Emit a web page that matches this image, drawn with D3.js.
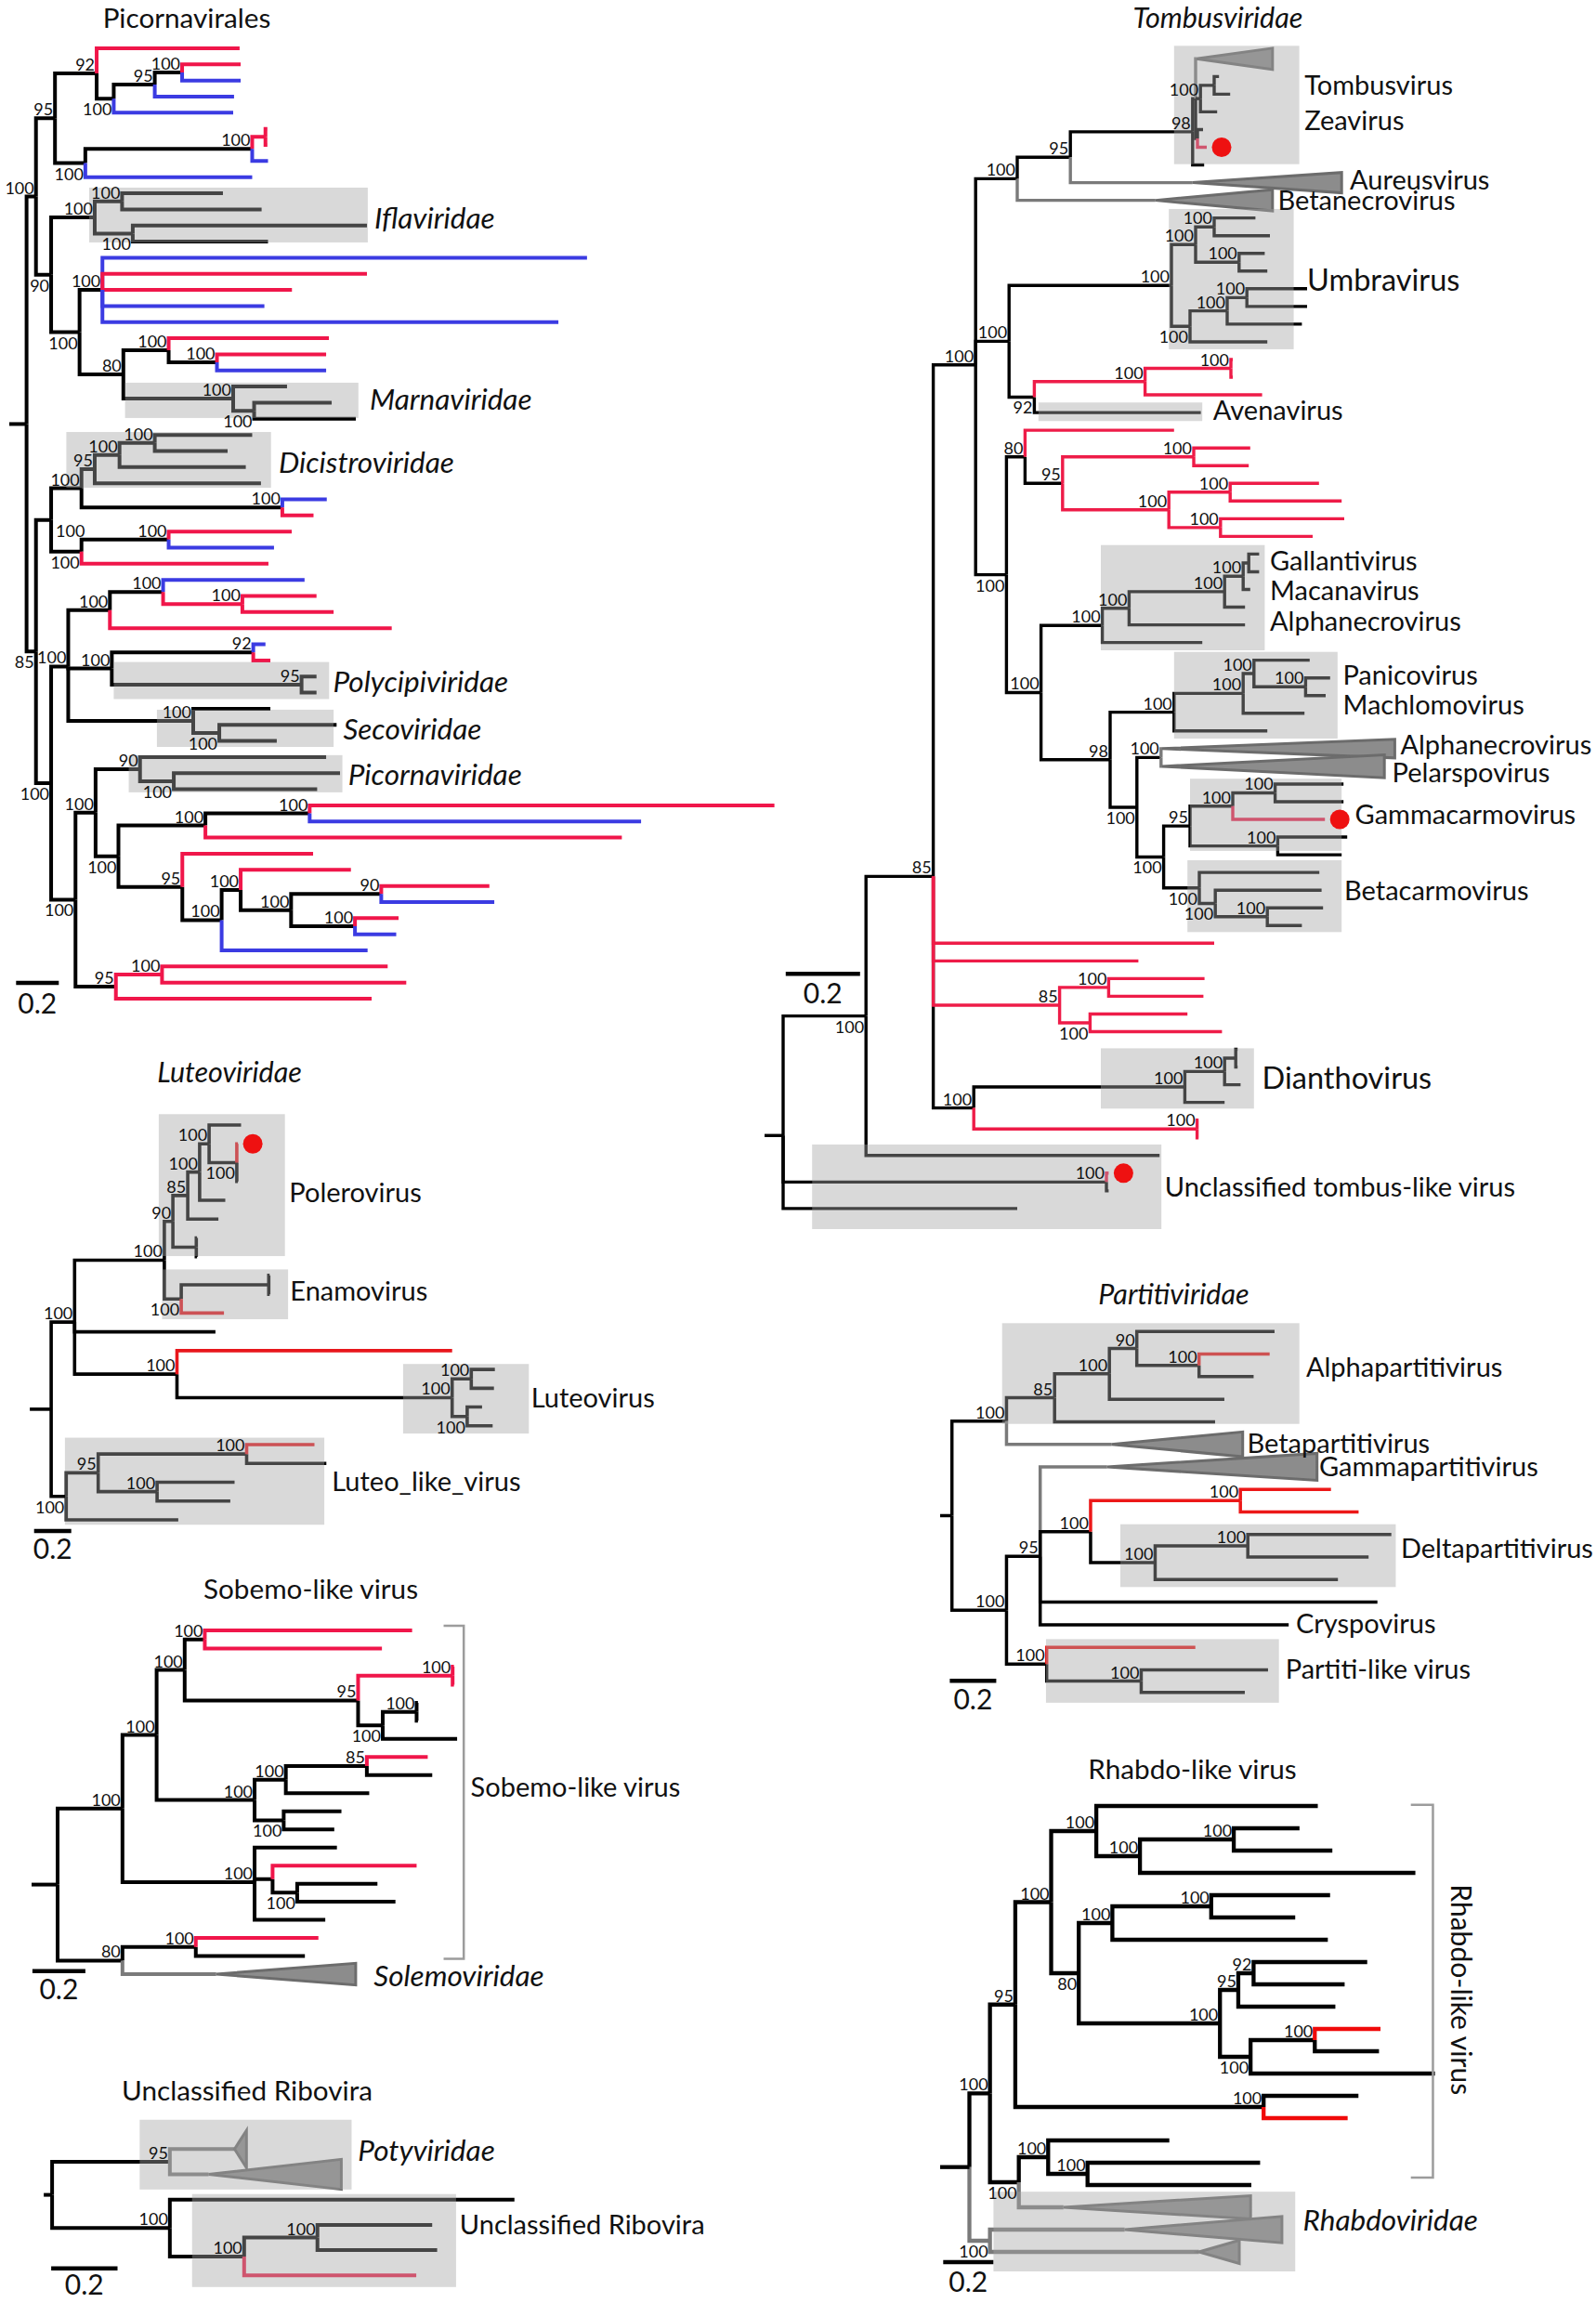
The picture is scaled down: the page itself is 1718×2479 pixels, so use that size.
<!DOCTYPE html>
<html><head><meta charset="utf-8">
<script src="https://cdn.jsdelivr.net/npm/d3@7"></script>
<style>
html,body{margin:0;padding:0;background:#fff;}
svg{display:block;}
text{font-family:Lato,"Open Sans",sans-serif;fill:#111;}
</style></head><body>
<svg id="chart" width="1718" height="2479"></svg>
<script>
// ---------- DATA: [id, parent, cumulative branch depth (subst./site), colour, support, triangleTipDepth, triangleSize(rows)] ----------
const picoNodes = [
["R","",0,"k",""],["A","R",0.044,"k","100"],["B","A",0.133,"k","95"],["C","B",0.328,"k","92"],["c1","C",0.997,"r",""],
["D","C",0.408,"k","100"],["E","D",0.600,"k","95"],["F","E",0.728,"k","100"],["f1","F",1.002,"r",""],["f2","F",1.002,"b",""],
["e1","E",0.971,"b",""],["d1","D",0.967,"b",""],["G","B",0.275,"k","100"],["H","G",1.056,"k","100"],["I","H",1.118,"r",""],
["i1","I",1.127,"r",""],["i2","I",1.127,"r",""],["h1","H",1.130,"b",""],["g1","G",1.056,"b",""],
["J","A",0.115,"k","90"],["K","J",0.319,"k","100"],["K1","K",0.447,"k","100"],["k1","K1",0.919,"k",""],["k2","K1",1.100,"k",""],
["K2","K",0.497,"k","100"],["k3","K2",1.593,"k",""],["k4","K2",1.130,"k",""],["M","J",0.248,"k","100"],["L","M",0.355,"k","100"],
["l1","L",2.623,"b",""],["l2","L",1.593,"r",""],["l3","L",1.242,"r",""],["l4","L",1.113,"b",""],["l5","L",2.489,"b",""],
["N","M",0.453,"k","80"],["O","N",0.665,"k","100"],["o1","O",1.415,"r",""],["Q","O",0.891,"k","100"],["q1","Q",1.402,"r",""],["q2","Q",1.402,"b",""],
["P","N",0.967,"k","100"],["p1","P",1.219,"k",""],["P2","P",1.065,"k","100"],["p2","P2",1.428,"k",""],["p3","P2",1.541,"k",""],
["S","R",0.044,"k","85"],["T","S",0.115,"k","100"],["U","T",0.257,"k","100"],["V","U",0.319,"k","95"],["W","V",0.435,"k","100"],
["X","W",0.600,"k","100"],["x1","X",1.056,"k",""],["x2","X",0.941,"k",""],["w1","W",1.026,"k",""],["v1","V",1.097,"k",""],
["Y","U",1.197,"k","100"],["y1","Y",1.405,"b",""],["y2","Y",1.343,"r",""],["Z","T",0.257,"k","100"],["AA","Z",0.665,"k","100"],
["aa1","AA",1.241,"r",""],["aa2","AA",1.158,"b",""],["z1","Z",1.132,"r",""],
["AB","S",0.115,"k","100"],["AF","AB",0.195,"k","100"],["AD","AF",0.390,"k","100"],["AC","AD",0.639,"k","100"],["ac1","AC",1.301,"b",""],
["AE","AC",1.010,"r","100"],["ae1","AE",1.357,"r",""],["ae2","AE",1.437,"r",""],["ad1","AD",1.709,"r",""],
["AG","AF",0.399,"k","100"],["AH","AG",1.061,"k","92"],["ah1","AH",1.118,"b",""],["ah2","AH",1.141,"r",""],
["AG2","AG",1.287,"k","95"],["ag1","AG2",1.357,"k",""],["ag2","AG2",1.357,"k",""],
["AI","AF",0.780,"k","100"],["ai1","AI",1.141,"k",""],["AJ","AI",0.902,"k","100"],["aj1","AJ",1.451,"k",""],["aj2","AJ",1.171,"k",""],
["AK","AB",0.229,"k","100"],["AL","AK",0.323,"k","100"],["AM","AL",0.531,"k","90"],["am1","AM",1.402,"k",""],
["AN","AM",0.689,"k","100"],["an1","AN",1.467,"k",""],["an2","AN",1.360,"k",""],
["AO","AL",0.430,"k","100"],["AP","AO",0.837,"k","100"],["AQ","AP",1.325,"k","100"],["aq1","AQ",3.500,"r",""],["aq2","AQ",2.876,"b",""],
["ap1","AP",2.786,"r",""],["AR","AO",0.729,"k","95"],["ar1","AR",1.341,"r",""],["AS","AR",0.913,"k","100"],["AT","AS",1.002,"k","100"],
["at1","AT",1.518,"r",""],["AU","AT",1.238,"k","100"],["AV","AU",1.660,"k","90"],["av1","AV",2.166,"r",""],["av2","AV",2.189,"b",""],
["AW","AU",1.537,"k","100"],["aw1","AW",1.741,"r",""],["aw2","AW",1.730,"b",""],["as1","AS",1.596,"b",""],
["AX","AK",0.418,"k","95"],["AY","AX",0.634,"r","100"],["ay1","AY",1.690,"r",""],["ay2","AY",1.777,"r",""],["ax1","AX",1.615,"r",""]
];
const picoBelow = ["D","G","J","K2","M","P2","S","Z","AJ","AB","AK","AN","AO"];
const picoRight = ["T"];
const picoBoxes = [[8.65,12.05,0.293,1.597],[20.76,22.95,0.461,1.553],[23.82,27.28,0.186,1.144],[38.1,40.4,0.408,1.416],[41.06,43.37,0.610,1.437],[43.88,46.19,0.478,1.478]];
const picoNames = [["Iflaviridae",1.628,10.55],["Marnaviridae",1.606,21.8],["Dicistroviridae",1.180,25.68],["Polycipiviridae",1.434,39.3],["Secoviridae",1.482,42.27],["Picornaviridae",1.505,45.1]];

const tombNodes = [
["R","",0,"k",""],["RA","R",0.223,"k","100"],["RB","RA",0.404,"k","85"],["RD","RB",0.518,"k","100"],["RF","RD",0.630,"k","100"],
["RI","RF",0.773,"k","95"],["RJ","RI",1.102,"k","98"],["RK","RJ",1.110,"k",""],["T1","RK",1.112,"g","",1.317,1.2],
["RK2","RK",1.123,"k","100"],["RK3","RK2",1.160,"k",""],["rk1","RK3",1.173,"k",""],["rk2","RK3",1.203,"k",""],["rk3","RK2",1.168,"k",""],
["RL","RK",1.115,"k",""],["rl1","RL",1.130,"k",""],["rl2","RL",1.140,"r",""],["rj1","RJ",1.133,"k",""],
["Aur","RI",1.102,"g","",1.503,1.15],["Bet","RF",1.002,"g","",1.317,1.2],
["RH","RD",0.608,"k","100"],["RM","RH",1.045,"k","100"],["RM1","RM",1.110,"k","100"],["RM1a","RM1",1.160,"k","100"],
["m1","RM1a",1.271,"k",""],["m2","RM1a",1.310,"k",""],["RM1b","RM1",1.227,"k","100"],["m3","RM1b",1.296,"k",""],["m4","RM1b",1.303,"k",""],
["RM2","RM",1.095,"k","100"],["RM2a","RM2",1.195,"k","100"],["RM2b","RM2a",1.248,"k","100"],["m5","RM2b",1.410,"k",""],["m6","RM2b",1.410,"k",""],
["m7","RM2a",1.396,"k",""],["m8","RM2",1.303,"k",""],
["RN","RH",0.676,"k","92"],["RO","RN",0.974,"r","100"],["RO1","RO",1.205,"r","100"],["o1","RO1",1.210,"r",""],["o2","RO1",1.210,"r",""],
["o3","RO",1.289,"r",""],["av","RN",1.124,"k",""],
["RG","RD",0.601,"k","100"],["RP","RG",0.651,"k","80"],["p1","RP",1.052,"r",""],["RR","RP",0.752,"k","95"],
["RS","RR",1.105,"r","100"],["s1","RS",1.257,"r",""],["s2","RS",1.253,"r",""],["RT","RR",1.038,"r","100"],
["RT1","RT",1.203,"r","100"],["t1","RT1",1.442,"r",""],["t2","RT1",1.503,"r",""],["RT2","RT",1.177,"r","100"],["t3","RT2",1.510,"r",""],["t4","RT2",1.425,"r",""],
["RQ","RG",0.694,"k","100"],["RU","RQ",0.859,"k","100"],["RV","RU",0.931,"k","100"],["RW","RV",1.188,"k","100"],["RX","RW",1.238,"k","100"],
["RY","RX",1.253,"k",""],["y1","RY",1.281,"k",""],["y2","RY",1.281,"k",""],["y3","RX",1.257,"k",""],["y4","RW",1.243,"k",""],
["y5","RV",1.243,"k",""],["y6","RU",1.128,"k",""],
["RZ","RQ",0.880,"k","98"],["RZ1","RZ",1.052,"k","100"],["RZ1a","RZ1",1.238,"k","100"],["RZ1b","RZ1a",1.267,"k","100"],["z1","RZ1b",1.417,"k",""],
["RZ1c","RZ1b",1.406,"k","100"],["z2","RZ1c",1.472,"k",""],["z3","RZ1c",1.460,"k",""],["z4","RZ1a",1.403,"k",""],["z5","RZ1",1.303,"k",""],
["RZ2","RZ",0.952,"k","100"],["RAA","RZ2",1.017,"k","100"],["Alp","RAA",1.020,"g","",1.646,1.05],["Pel","RAA",1.020,"g","",1.618,1.3],
["RAB","RZ2",1.024,"k","100"],["RAC","RAB",1.095,"k","95"],["RAD","RAC",1.210,"k","100"],["RAD1","RAD",1.324,"k","100"],
["g1","RAD1",1.508,"k",""],["g2","RAD1",1.508,"k",""],["g3","RAD",1.458,"r",""],["RAE","RAC",1.331,"k","100"],["g4","RAE",1.518,"k",""],["g5","RAE",1.503,"k",""],
["RAF","RAB",1.120,"k","100"],["b1","RAF",1.443,"k",""],["RAG","RAF",1.163,"k","100"],["b2","RAG",1.449,"k",""],
["RAH","RAG",1.303,"k","100"],["b3","RAH",1.453,"k",""],["b4","RAH",1.396,"k",""],
["r1","RB",1.160,"r",""],["r2","RB",0.956,"r",""],["R85","RB",0.744,"r","85"],["R85a","R85",0.876,"r","100"],["r3","R85a",1.134,"r",""],
["r4","R85a",1.131,"r",""],["R85b","R85",0.826,"r","100"],["r5","R85b",1.088,"r",""],["r6","R85b",1.181,"r",""],
["RE","RB",0.513,"k","100"],["REa","RE",1.081,"k","100"],["REb","REa",1.188,"k","100"],["REc","REb",1.218,"k",""],
["e1","REc",1.223,"k",""],["e2","REc",1.223,"k",""],["e3","REb",1.231,"k",""],["e4","REa",1.188,"k",""],
["RF2","RE",1.114,"r","100"],["f1","RF2",1.118,"r",""],["f2","RF2",1.118,"r",""],
["ra1","RA",1.013,"k",""],["RC","R",0.870,"k","100"],["c1","RC",0.876,"r",""],["c2","RC",0.876,"k",""],["rt","R",0.630,"k",""]
];
const tombBelow = ["RA","RM2","RN","RG","RZ2","RAB","RAF","RAG","R85b"];
const tombBoxes = [[-0.735,5.956,1.052,1.389],[8.49,16.42,1.038,1.374],[19.43,20.48,0.687,1.128],[27.49,33.44,0.855,1.296],[33.53,38.43,1.052,1.492],
[40.70,44.78,1.095,1.503],[45.31,49.37,1.088,1.503],[55.94,59.35,0.855,1.267],[61.38,66.16,0.078,1.018]];
const tombNames = [["Tombusvirus",1.403,1.5],["Zeavirus",1.403,3.5],["Aureusvirus",1.525,6.86],["Betanecrovirus",1.331,8.02],["Umbravirus",1.410,12.52],
["Avenavirus",1.157,19.87],["Gallantivirus",1.310,28.36],["Macanavirus",1.310,30.03],["Alphanecrovirus",1.310,31.78],["Panicovirus",1.506,34.84],
["Machlomovirus",1.506,36.5],["Alphanecrovirus",1.661,38.78],["Pelarspovirus",1.639,40.36],["Gammacarmovirus",1.539,42.72],["Betacarmovirus",1.510,47.01],
["Dianthovirus",1.289,57.6],["Unclassified tombus-like virus",1.027,63.75]];
const tombDots = ["rl2","g3","c1"];

const luteoNodes = [
["R","",0,"k",""],["RL1","R",0.126,"k","100"],["PE","RL1",0.609,"k","100"],["P1","PE",0.655,"k","90"],["P2","P1",0.735,"k","85"],
["P3","P2",0.799,"k","100"],["P4","P3",0.850,"k","100"],["p41","P4",1.022,"k",""],["P5","P4",0.999,"k","100"],
["p51","P5",1.005,"r",""],["p52","P5",1.005,"k",""],["p53","P5",1.005,"k",""],["p31","P3",0.937,"k",""],["p21","P2",0.900,"k",""],
["P1c","P1",0.781,"k",""],["p11","P1c",0.785,"k",""],["p12","P1c",0.785,"k",""],
["E1","PE",0.700,"k","100"],["E2","E1",1.171,"k",""],["e21","E2",1.176,"k",""],["e22","E2",1.176,"k",""],["e11","E1",0.930,"r",""],
["bl","RL1",0.884,"k",""],["L1","RL1",0.677,"k","100"],["l11","L1",2.158,"r",""],["L2","L1",2.158,"k","100"],
["L3","L2",2.261,"k","100"],["l31","L3",2.388,"k",""],["l32","L3",2.383,"k",""],["L4","L2",2.239,"k","100"],["l41","L4",2.319,"k",""],["l42","L4",2.376,"k",""],
["RL2","R",0.081,"k","100"],["LL1","RL2",0.253,"k","95"],["LL2","LL1",1.052,"k","100"],["ll21","LL2",1.417,"r",""],["ll22","LL2",1.481,"k",""],
["LL3","LL1",0.570,"k","100"],["ll31","LL3",0.987,"k",""],["ll32","LL3",0.964,"k",""],["rl2","RL2",0.684,"k",""]
];
const luteoBelow = ["P5","E1","L4","RL2"];
const luteoBoxes = [[-0.578,6.97,0.579,1.258],[7.68,10.33,0.597,1.275],[12.71,16.41,1.894,2.571],[16.63,21.26,0.074,1.470]];
const luteoNames = [["Polerovirus",1.281,3.59],["Enamovirus",1.286,8.82],["Luteovirus",2.583,14.52],["Luteo_like_virus",1.511,18.97]];
const luteoDots = ["p51"];

const partNodes = [
["R","",0,"k",""],["PA","R",0.235,"k","100"],["PB","PA",0.442,"k","85"],["PC","PB",0.678,"k","100"],["PD","PC",0.796,"k","90"],
["pd1","PD",1.389,"k",""],["PE","PD",1.064,"k","100"],["pe1","PE",1.368,"r",""],["pe2","PE",1.299,"k",""],["pc1","PC",1.173,"k",""],
["pb1","PB",1.133,"k",""],["Bet","PA",0.687,"g","",1.252,1.1],
["PF","R",0.235,"k","100"],["PG","PF",0.380,"k","95"],["Gam","PG",0.668,"g","",1.572,1.2],["PI","PG",0.597,"k","100"],
["PJ","PI",1.242,"r","100"],["pj1","PJ",1.632,"r",""],["pj2","PJ",1.751,"r",""],["PK","PI",0.875,"k","100"],
["PL","PK",1.274,"k","100"],["pl1","PL",1.892,"k",""],["pl2","PL",1.794,"k",""],["pk1","PK",1.662,"k",""],
["pg1","PG",1.832,"k",""],["pg2","PG",1.450,"k",""],["PH","PF",0.408,"k","100"],["ph1","PH",1.048,"r",""],
["PM","PH",0.815,"k","100"],["pm1","PM",1.361,"k",""],["pm2","PM",1.261,"k",""]
];
const partBoxes = [[-0.371,4.096,0.216,1.496],[8.545,11.33,0.725,1.911],[13.64,16.46,0.405,1.408]];
const partNames = [["Alphapartitivirus",1.525,1.58],["Betapartitivirus",1.271,4.97],["Gammapartitivirus",1.581,6.0],["Deltapartitivirus",1.933,9.6],
["Cryspovirus",1.481,12.94],["Partiti-like virus",1.436,14.97]];

const sobNodes = [
["R","",0,"k",""],["SA","R",0.245,"k","100"],["SB","SA",0.374,"k","100"],["SD","SB",0.480,"k","100"],["SF","SD",0.556,"k","100"],
["sf1","SF",1.339,"r",""],["sf2","SF",1.225,"r",""],["SG","SD",1.135,"k","95"],["SGc","SG",1.492,"r","100"],["sg1","SGc",1.497,"r",""],["sg2","SGc",1.497,"r",""],
["SH","SG",1.228,"k","100"],["SHc","SH",1.356,"k","100"],["sh1","SHc",1.361,"k",""],["sh2","SHc",1.361,"k",""],["sh3","SH",1.509,"k",""],
["SE","SB",0.744,"k","100"],["SI","SE",0.862,"k","100"],["SK","SI",1.168,"k","85"],["sk1","SK",1.398,"r",""],["sk2","SK",1.415,"k",""],
["si1","SI",1.177,"k",""],["SJ","SE",0.854,"k","100"],["sj1","SJ",1.072,"k",""],["sj2","SJ",1.045,"k",""],
["SC","SA",0.744,"k","100"],["sc1","SC",1.055,"k",""],["SL","SC",0.812,"k",""],["sl1","SL",1.356,"r",""],["SM","SL",0.905,"k","100"],
["sm1","SM",1.208,"k",""],["sm2","SM",1.276,"k",""],["sc3","SC",1.011,"k",""],
["SN","R",0.245,"k","80"],["SO","SN",0.522,"k","100"],["so1","SO",0.985,"r",""],["so2","SO",0.934,"k",""],["Sol","SN",0.599,"g","",1.126,1.2]
];
const sobBelow = ["SH","SJ","SM"];
const sobNames = [["Sobemo-like virus",1.560,8.64],["Solemoviridae",1.194,19.09]];
const sobBracket = [1.458,1.534,-0.26,18.15];

const ribNodes = [
["R","",0,"k",""],["UA","R",0.355,"k","95"],["Pt1","UA",0.550,"g","",0.586,1.47],["Pt2","UA",0.472,"g","",0.872,1.19],
["UB","R",0.355,"k","100"],["ub1","UB",1.394,"k",""],["UC","UB",0.579,"k","100"],["UD","UC",0.800,"k","100"],
["ud1","UD",1.146,"k",""],["ud2","UD",1.161,"k",""],["uc1","UC",1.098,"r",""]
];
const ribBoxes = [[-1.16,1.60,0.264,0.903],[1.78,5.46,0.422,1.218]];
const ribNames = [["Potyviridae",0.922,0.06],["Unclassified Ribovira",1.229,3.0]];

const rhabNodes = [
["R","",0,"k",""],["HA","R",0.082,"k","100"],["HB","HA",0.183,"k","95"],["HD","HB",0.326,"k","100"],["HF","HD",0.506,"k","100"],
["hf1","HF",1.389,"k",""],["HH","HF",0.680,"k","100"],["HI","HH",1.054,"k","100"],["hi1","HI",1.316,"k",""],["hi2","HI",1.447,"k",""],
["hh1","HH",1.778,"k",""],["HG","HD",0.436,"k","80"],["HJ","HG",0.570,"k","100"],["HK","HJ",0.964,"k","100"],["hk1","HK",1.438,"k",""],
["hk2","HK",1.299,"k",""],["hj1","HJ",1.429,"k",""],["HL","HG",0.999,"k","100"],["HM","HL",1.072,"k","95"],["HN","HM",1.133,"k","92"],
["hn1","HN",1.586,"k",""],["hn2","HN",1.496,"k",""],["hm1","HM",1.459,"k",""],["HO","HL",1.121,"k","100"],["HP","HO",1.377,"k","100"],
["hp1","HP",1.639,"r",""],["hp2","HP",1.633,"k",""],["ho1","HO",1.856,"k",""],["HE","HB",1.173,"k","100"],["he1","HE",1.551,"k",""],
["he2","HE",1.508,"r",""],["HC","HA",0.197,"k","100"],["HQ","HC",0.314,"k","100"],["hq1","HQ",0.797,"k",""],["HR","HQ",0.471,"k","100"],
["hr1","HR",1.159,"k",""],["hr2","HR",1.124,"k",""],["Rh1","HC",0.375,"g","",1.121,1.04],
["HS","R",0.082,"g","100"],["Rh2","HS",0.619,"g","",1.246,1.18],["Rh3","HS",0.915,"g","",1.076,1.04]
];
const rhabBelow = ["HG","HO","HC","HS"];
const rhabBoxes = [[17.30,20.875,0.096,1.299]];
const rhabNames = [["Rhabdoviridae",1.330,18.55]];
const rhabBracket = [1.760,1.848,-0.05,16.67];
const rhabSide = ["Rhabdo-like virus",1.961,8.24];

const treeTitles = ["Picornavirales","Tombusviridae","Luteoviridae","Partitiviridae","Sobemo-like virus","Unclassified Ribovira","Rhabdo-like virus"];
const scaleValue = 0.2;

// ---------- LAYOUT ----------
const layouts = [
 {nodes:picoNodes, below:picoBelow, right:picoRight, boxes:picoBoxes, names:picoNames, rootX:28.6, ppu:230, y0:52, y1:1075, stub:18.6, lw:4, red:"#f0164a", bar:[17.3,1058], barLabelY:1080, title:[201,19]},
 {nodes:tombNodes, below:tombBelow, boxes:tombBoxes, names:tombNames, dots:tombDots, rootX:843, ppu:400, y0:63.3, y1:1300.9, stub:20, lw:3.4, red:"#ee1c48", bar:[845.8,1048.3], barLabelY:1069, title:[1311,19]},
 {nodes:luteoNodes, below:luteoBelow, boxes:luteoBoxes, names:luteoNames, dots:luteoDots, rootX:55.1, ppu:200, y0:1211, y1:1636, stub:23, lw:3.6, red:"#e8161c", bar:[36.7,1648], barLabelY:1667, title:[247,1154]},
 {nodes:partNodes, boxes:partBoxes, names:partNames, rootX:1024.7, ppu:250, y0:1433.3, y1:1821.7, stub:12.7, lw:3.5, red:"#ec1818", bar:[1022.4,1809.3], barLabelY:1829, title:[1263.5,1393]},
 {nodes:sobNodes, below:sobBelow, names:sobNames, bracket:sobBracket, rootX:62, ppu:285, y0:1755, y1:2125, stub:28, lw:4, red:"#f0164a", bar:[34.9,2121.7], barLabelY:2141, title:[334.5,1710]},
 {nodes:ribNodes, boxes:ribBoxes, names:ribNames, rootX:56.1, ppu:357, y0:2313.3, y1:2449.3, stub:9, lw:4, red:"#ee1c48", bar:[55.1,2441.7], barLabelY:2459, title:[266,2250]},
 {nodes:rhabNodes, below:rhabBelow, boxes:rhabBoxes, names:rhabNames, bracket:rhabBracket, side:rhabSide, rootX:1043.5, ppu:270, y0:1944, y1:2424, stub:31.5, lw:4.3, red:"#f00a0a", bar:[1015.3,2435], barLabelY:2456, title:[1283.5,1904]}
];
const bigNames = new Set(["Umbravirus","Dianthovirus"]);
const baseCol = {k:"#000000", b:"#3b3be2", g:"#7a7a7a"};
const isItalic = s => /viridae$/.test(s);
const nameSize = s => bigNames.has(s) ? 32.5 : (isItalic(s) ? 31.5 : 29);
const svg = d3.select("#chart");
svg.append("rect").attr("width",1718).attr("height",2479).attr("fill","#fff");

function drawTree(L, title) {
  const g = svg.append("g");
  const byId = new Map();
  L.nodes.forEach(r => byId.set(r[0], {id:r[0], depth:r[2], col:r[3], sup:r[4], tip:r[5], th:r[6], kids:[]}));
  L.nodes.forEach(r => { if (r[1]) byId.get(r[1]).kids.push(byId.get(r[0])); });
  const root = d3.hierarchy(byId.get(L.nodes[0][0]), d => d.kids.length ? d.kids : null);
  let n = 0;
  root.eachBefore(d => { if (!d.children) d.row = n++; });
  root.eachAfter(d => { if (d.children) d.row = d3.mean(d.children, c => c.row); });
  const x = d3.scaleLinear().domain([0,1]).range([L.rootX, L.rootX + L.ppu]);
  const y = d3.scaleLinear().domain([0, n-1]).range([L.y0, L.y1]);
  const col = c => c === "r" ? L.red : baseCol[c];
  const branches = root.descendants().filter(d => d.parent);
  const rank = {k:0, g:0, r:1, b:1};
  const sorted = branches.slice().sort((a,b) => rank[a.data.col] - rank[b.data.col]);

  g.append("g").selectAll("path").data(sorted).join("path")
    .attr("d", d => `M${x(d.parent.data.depth)},${y(d.parent.row)}V${y(d.row)}H${x(d.data.depth)}`)
    .attr("fill","none").attr("stroke", d => col(d.data.col)).attr("stroke-width", L.lw)
    .attr("stroke-linejoin","miter").attr("stroke-linecap","butt");

  const tris = branches.filter(d => d.data.tip != null);
  g.append("g").selectAll("path").data(tris).join("path")
    .attr("d", d => { const yc = y(d.row), hh = (y(d.data.th) - y(0))/2;
      return `M${x(d.data.depth)},${yc}L${x(d.data.tip)},${yc-hh}L${x(d.data.tip)},${yc+hh}Z`; })
    .attr("fill","#8c8c8c").attr("stroke","#6c6c6c").attr("stroke-width",3).attr("stroke-linejoin","miter");

  g.append("line").attr("x1", x(0) - L.stub).attr("x2", x(0)).attr("y1", y(root.row)).attr("y2", y(root.row))
    .attr("stroke","#000").attr("stroke-width", L.lw);

  g.append("g").selectAll("rect").data(L.boxes || []).join("rect")
    .attr("x", b => x(b[2])).attr("y", b => y(b[0]))
    .attr("width", b => x(b[3]) - x(b[2])).attr("height", b => y(b[1]) - y(b[0]))
    .attr("fill","rgba(165,165,165,0.42)");

  const all = root.descendants();
  g.append("g").selectAll("circle").data((L.dots || []).map(id => all.find(d => d.data.id === id))).join("circle")
    .attr("cx", d => x(d.data.depth) + 16).attr("cy", d => y(d.row)).attr("r", 10.5).attr("fill","#ee1111");

  const below = new Set(L.below || []), right = new Set(L.right || []);
  g.append("g").selectAll("text").data(branches.filter(d => d.data.sup)).join("text")
    .attr("x", d => right.has(d.data.id) ? x(d.data.depth) + 5 : x(d.data.depth) - 2)
    .attr("y", d => (below.has(d.data.id) || right.has(d.data.id)) ? y(d.row) + 18 : y(d.row) - 3)
    .attr("text-anchor", d => right.has(d.data.id) ? "start" : "end")
    .attr("font-size", 18).text(d => d.data.sup);

  g.append("g").selectAll("text").data(L.names || []).join("text")
    .attr("x", t => x(t[1])).attr("y", t => y(t[2])).attr("dy","0.36em")
    .attr("font-size", t => nameSize(t[0]))
    .attr("font-style", t => isItalic(t[0]) ? "italic" : "normal")
    .text(t => t[0]);

  if (L.bracket) {
    const b = L.bracket;
    g.append("path").attr("d", `M${x(b[0])},${y(b[2])}H${x(b[1])}V${y(b[3])}H${x(b[0])}`)
      .attr("fill","none").attr("stroke","#9c9c9c").attr("stroke-width",2.5);
  }
  if (L.side) {
    const s = L.side;
    g.append("text").attr("transform", `translate(${x(s[1])},${y(s[2])}) rotate(90)`)
      .attr("text-anchor","middle").attr("dy","0.36em").attr("font-size",30).text(s[0]);
  }
  // scale bar
  const bw = x(scaleValue) - x(0);
  g.append("line").attr("x1", L.bar[0]).attr("x2", L.bar[0] + bw).attr("y1", L.bar[1]).attr("y2", L.bar[1])
    .attr("stroke","#000").attr("stroke-width",4.5);
  g.append("text").attr("x", L.bar[0] + bw/2).attr("y", L.barLabelY).attr("dy","0.36em")
    .attr("text-anchor","middle").attr("font-size",30).text(String(scaleValue));
  // title
  g.append("text").attr("x", L.title[0]).attr("y", L.title[1]).attr("dy","0.36em").attr("text-anchor","middle")
    .attr("font-size", isItalic(title) ? 30.5 : 29.7).attr("font-style", isItalic(title) ? "italic" : "normal").text(title);
}
layouts.forEach((L,i) => drawTree(L, treeTitles[i]));
</script>
</body></html>
